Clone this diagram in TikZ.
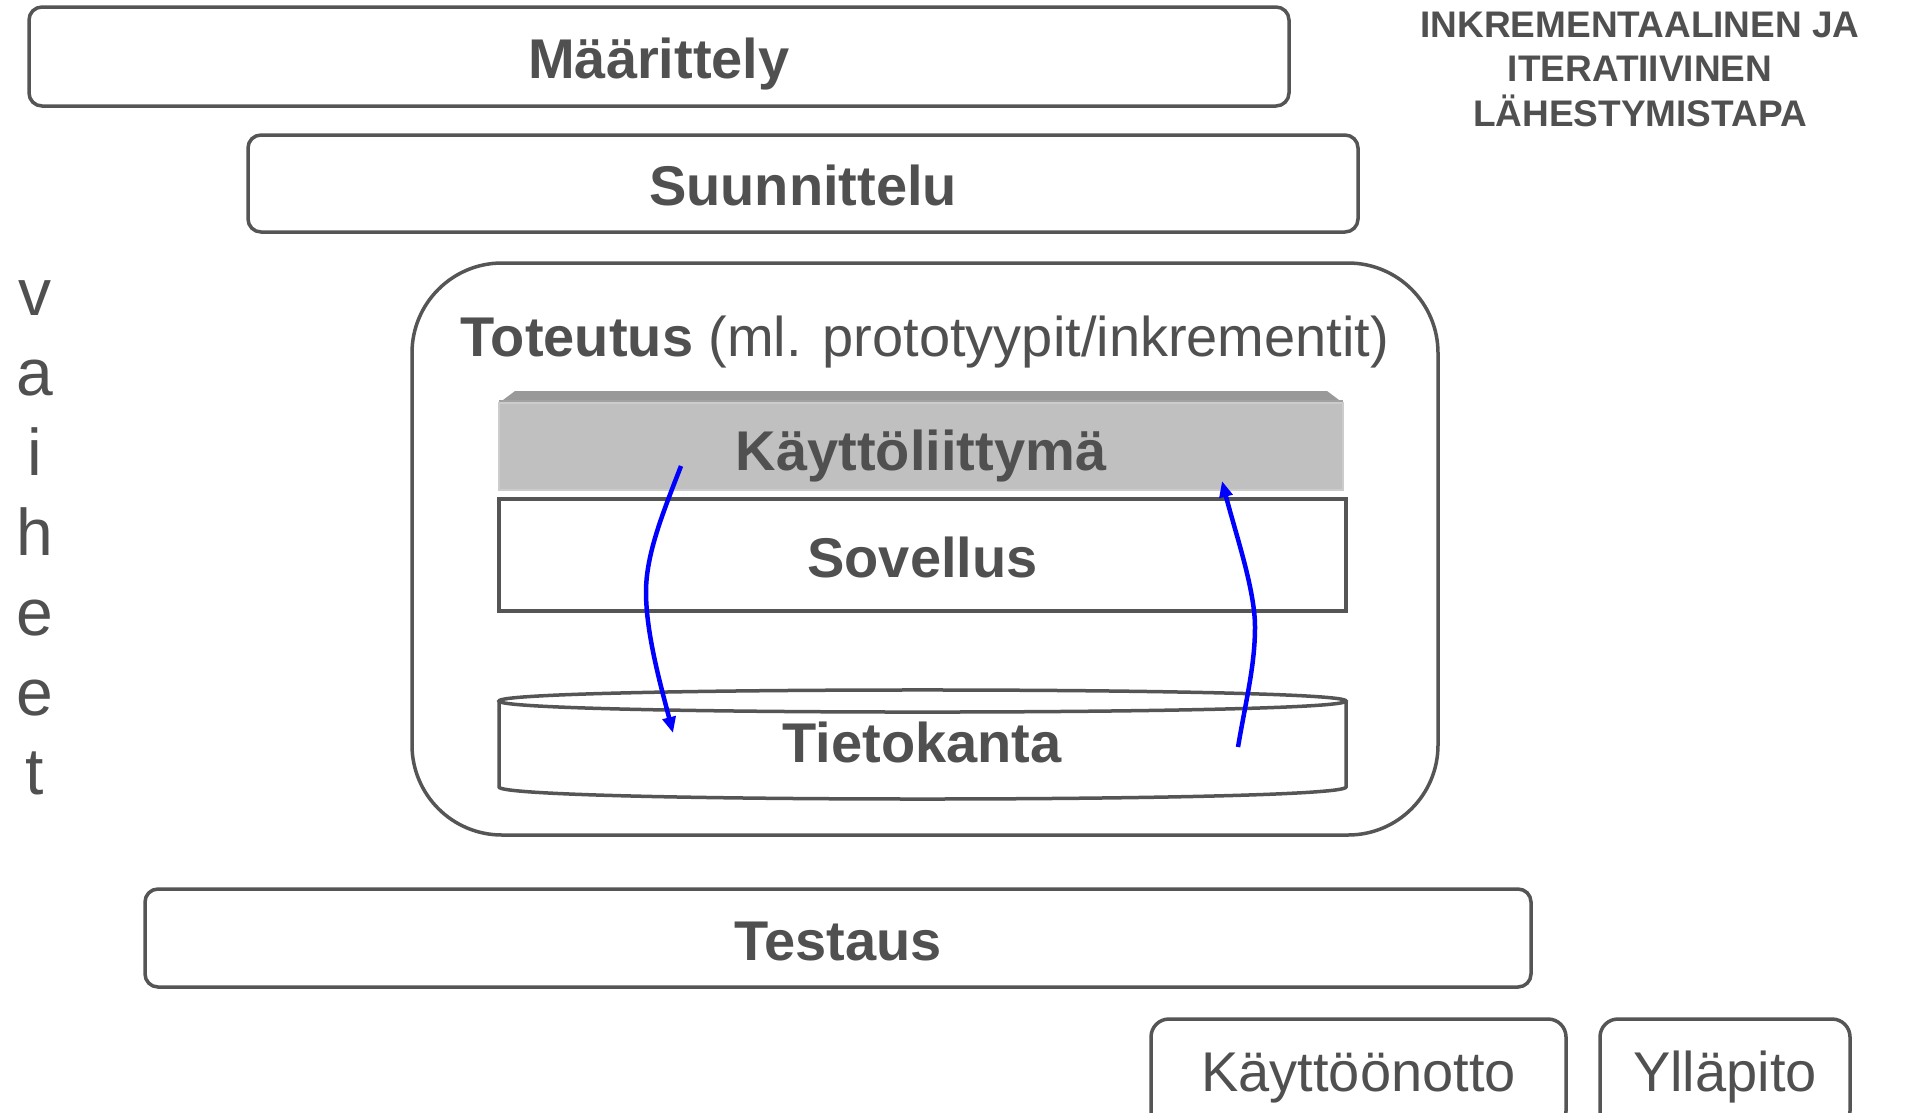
\documentclass[tikz,border=0pt]{standalone}
\usepackage{fontspec}
\setmainfont{Liberation Sans}
\usetikzlibrary{arrows.meta}
\definecolor{txt}{RGB}{80,80,80}
\definecolor{bord}{RGB}{85,85,85}
\definecolor{face}{RGB}{192,192,192}
\definecolor{bevel}{RGB}{153,153,153}
\begin{document}
\begin{tikzpicture}[x=1pt,y=-1pt,
  phase/.style={draw=bord, line width=3.5pt, rounded corners=13pt, text=txt,
    font=\fontsize{56}{67}\selectfont\bfseries, inner sep=0pt, text height=44pt, text depth=0pt},
  lbl/.style={text=txt, font=\fontsize{56}{67}\selectfont\bfseries, inner sep=0pt},
  letter/.style={text=txt, font=\fontsize{66}{70}\selectfont, anchor=base, inner sep=0pt},
  flow/.style={draw=blue, line width=4.5pt, -{Triangle[length=16pt,width=13pt]}}
]
\useasboundingbox (0,0) rectangle (1908,1112);
\fill[white] (0,0) rectangle (1908,1112);

% top-right heading
\node[text=txt, font=\fontsize{37}{44.5}\selectfont\bfseries, align=center, inner sep=0pt]
  (head) at (1640,69) {INKREMENTAALINEN JA\\ITERATIIVINEN\\LÄHESTYMISTAPA};

% vertical "vaiheet"
\node[letter] (v1) at (35,315) {v};
\node[letter] (v2) at (35,395) {a};
\node[letter] (v3) at (35,475) {i};
\node[letter] (v4) at (35,555) {h};
\node[letter] (v5) at (35,635) {e};
\node[letter] (v6) at (35,715) {e};
\node[letter] (v7) at (35,794) {t};

% phases
\node[phase, minimum width=1260pt, minimum height=99pt] (maar) at (659,56.5) {Määrittely};
\node[phase, minimum width=1110pt, minimum height=97pt] (suun) at (803,183.5) {Suunnittelu};

% Toteutus container
\node[draw=bord, line width=3.5pt, rounded corners=90pt, minimum width=1026pt,
  minimum height=572pt, inner sep=0pt] (tot) at (925,549) {};
\node[text=txt, font=\fontsize{56}{67}\selectfont, anchor=base, inner sep=0pt]
  (tottitle) at (925,356) {\textbf{Toteutus} (ml. prototyypit/inkrementit)};

% Käyttöliittymä block (bevelled)
\fill[bevel] (499,403) -- (515,391) -- (1327,391) -- (1343,403) -- cycle;
\fill[black!37] (499,400) rectangle (1343,404);
\node[fill=face, draw=black!20, line width=1.5pt, minimum width=844pt, minimum height=87pt,
  inner sep=0pt] (kl) at (921,446.5) {};
\node[lbl, anchor=base] (kltext) at (921,470) {Käyttöliittymä};

% Sovellus
\node[draw=bord, line width=3.5pt, minimum width=847pt, minimum height=112pt, inner sep=0pt,
  text=txt, font=\fontsize{56}{67}\selectfont\bfseries, text height=44pt, text depth=0pt]
  (sov) at (922.5,555) {Sovellus};

% Tietokanta cylinder
\draw[bord, line width=3.5pt, fill=white]
  (499,701) -- (499,787) .. controls (499,803) and (1346,803) .. (1346,787) -- (1346,701);
\draw[bord, line width=3.5pt, fill=white]
  (499,701) .. controls (499,686.3) and (1346,686.3) .. (1346,701)
            .. controls (1346,715.7) and (499,715.7) .. (499,701) -- cycle;
\node[lbl] (tieto) at (922,742) {Tietokanta};

% flow arrows
\coordinate (a1s) at (681,466);
\coordinate (a1m) at (646,592);
\coordinate (a1e) at (673,733);
\coordinate (a2s) at (1238,747);
\coordinate (a2m) at (1255,627);
\coordinate (a2e) at (1222,481);
\draw[flow] (a1s) .. controls (662,515) and (646,555) .. (a1m)
                  .. controls (646,635) and (662,690) .. (a1e);
\draw[flow] (a2s) .. controls (1246,700) and (1255,665) .. (a2m)
                  .. controls (1255,590) and (1236,535) .. (a2e);

% Testaus
\node[phase, minimum width=1386pt, minimum height=98pt] (test) at (838,938) {Testaus};

% bottom boxes (cut by page edge)
\node[draw=bord, line width=3.5pt, rounded corners=18pt, minimum width=415pt,
  minimum height=110pt, inner sep=0pt] (kayt) at (1358.5,1074) {};
\node[text=txt, font=\fontsize{56}{67}\selectfont, anchor=base, inner sep=0pt]
  (kayttext) at (1358.5,1091) {Käyttöönotto};
\node[draw=bord, line width=3.5pt, rounded corners=18pt, minimum width=250pt,
  minimum height=110pt, inner sep=0pt] (yll) at (1725,1074) {};
\node[text=txt, font=\fontsize{56}{67}\selectfont, anchor=base, inner sep=0pt]
  (ylltext) at (1725,1091) {Ylläpito};
\end{tikzpicture}
\end{document}
